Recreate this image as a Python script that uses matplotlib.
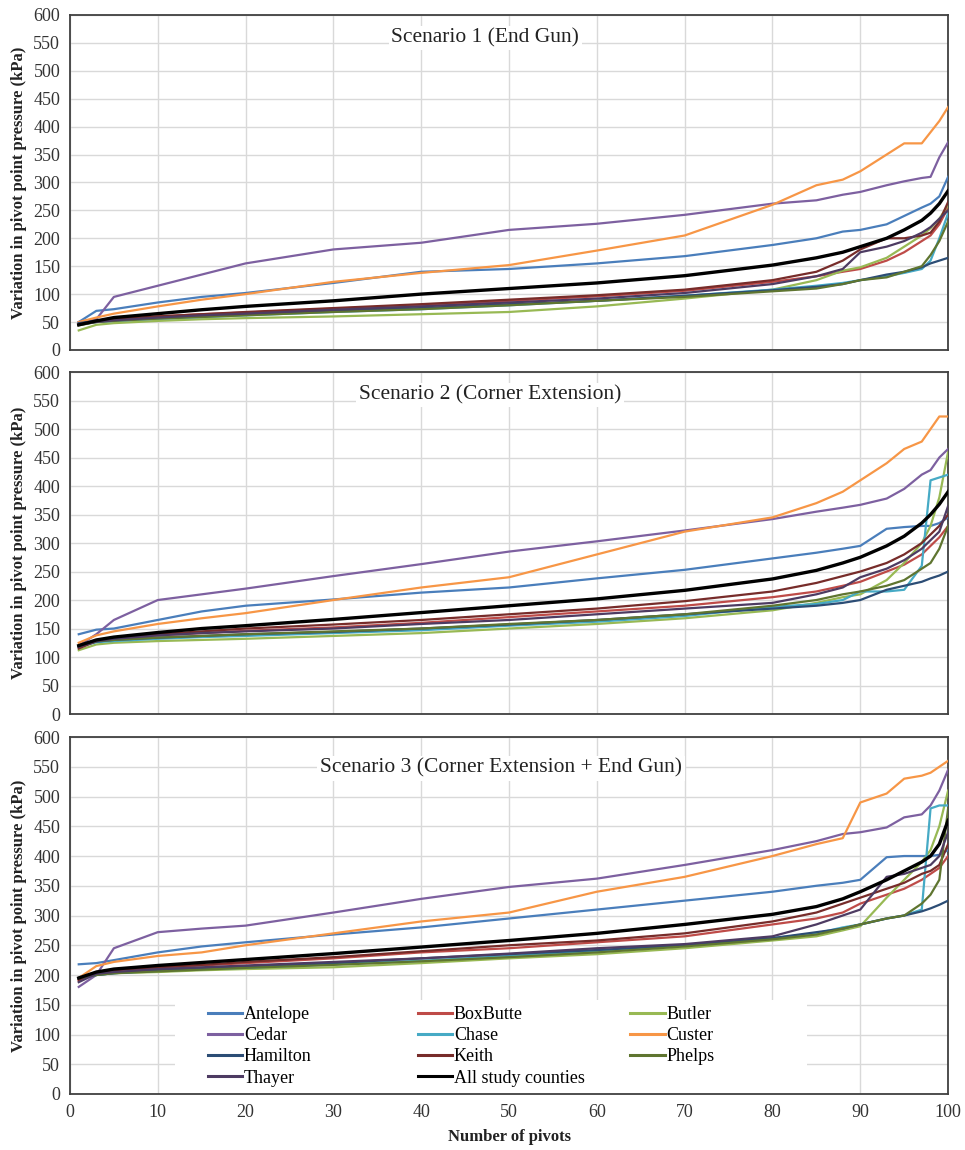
import numpy as np
import matplotlib.pyplot as plt
from matplotlib.legend import Legend
from matplotlib.patches import Rectangle

plt.rcParams['font.family'] = ['Liberation Serif', 'DejaVu Serif']

# pivot index (sorted), shared by all series
x = [1, 3, 5, 10, 15, 20, 30, 40, 50, 60, 70, 80, 85, 88, 90, 93, 95, 97, 98, 99, 100]

counties = ['Antelope', 'BoxButte', 'Butler', 'Cedar', 'Chase', 'Custer',
            'Hamilton', 'Keith', 'Phelps', 'Thayer', 'All study counties']
colors = ['#4A7EBB', '#BE4B48', '#98B954', '#7D60A0', '#46AAC5', '#F79646',
          '#2C4D75', '#772C2A', '#5F7530', '#4D3B62', '#000000']

# Scenario 1 (End Gun)
s1_antelope = [50, 70, 73, 85, 95, 102, 120, 140, 145, 155, 168, 188, 200, 212, 215, 225, 240, 255, 262, 275, 310]
s1_boxbutte = [46, 52, 55, 60, 64, 67, 74, 80, 88, 96, 106, 122, 132, 140, 145, 160, 175, 195, 205, 225, 255]
s1_butler = [35, 45, 48, 52, 55, 57, 60, 64, 68, 78, 92, 108, 125, 142, 148, 165, 185, 205, 218, 235, 260]
s1_cedar = [50, 55, 95, 115, 135, 155, 180, 192, 215, 226, 242, 262, 268, 278, 283, 295, 302, 308, 310, 345, 372]
s1_chase = [45, 50, 52, 56, 59, 62, 68, 73, 80, 88, 97, 108, 115, 120, 125, 132, 138, 145, 160, 200, 245]
s1_custer = [50, 58, 65, 78, 90, 100, 122, 138, 152, 178, 205, 260, 295, 305, 320, 350, 370, 370, 390, 410, 435]
s1_hamilton = [48, 52, 55, 58, 62, 65, 70, 75, 82, 88, 97, 107, 113, 118, 125, 135, 140, 148, 155, 160, 165]
s1_keith = [45, 52, 55, 60, 64, 68, 75, 82, 90, 98, 108, 125, 140, 160, 180, 200, 200, 205, 210, 230, 265]
s1_phelps = [44, 50, 52, 56, 59, 62, 68, 73, 80, 88, 95, 105, 110, 118, 125, 130, 140, 150, 170, 195, 230]
s1_thayer = [46, 50, 53, 58, 62, 65, 72, 78, 85, 92, 102, 118, 132, 145, 175, 185, 195, 210, 220, 235, 250]
s1_all = [45, 52, 58, 65, 72, 78, 88, 100, 110, 120, 133, 152, 165, 175, 185, 200, 215, 232, 245, 262, 285]

# Scenario 2 (Corner Extension)
s2_antelope = [140, 148, 150, 165, 180, 190, 201, 213, 222, 238, 253, 273, 283, 290, 295, 325, 328, 330, 330, 335, 345]
s2_boxbutte = [118, 128, 132, 138, 142, 146, 152, 160, 170, 180, 190, 205, 215, 225, 232, 250, 262, 280, 295, 310, 330]
s2_butler = [112, 122, 125, 128, 130, 132, 137, 142, 150, 158, 168, 182, 195, 205, 210, 235, 265, 300, 330, 380, 460]
s2_cedar = [120, 140, 165, 200, 210, 220, 242, 263, 285, 303, 322, 342, 355, 362, 367, 378, 395, 420, 428, 450, 465]
s2_chase = [118, 126, 128, 132, 135, 137, 142, 147, 155, 162, 172, 188, 193, 200, 215, 215, 218, 260, 410, 415, 420]
s2_custer = [125, 138, 145, 158, 168, 177, 200, 222, 240, 280, 320, 345, 370, 390, 410, 440, 465, 478, 500, 522, 522]
s2_hamilton = [118, 127, 130, 134, 137, 140, 144, 150, 157, 165, 175, 185, 190, 195, 200, 218, 225, 232, 238, 243, 250]
s2_keith = [115, 128, 133, 140, 145, 150, 157, 165, 175, 185, 198, 215, 230, 242, 250, 265, 280, 300, 315, 330, 350]
s2_phelps = [120, 128, 130, 134, 137, 140, 145, 150, 158, 165, 175, 190, 200, 210, 215, 225, 235, 255, 265, 290, 330]
s2_thayer = [118, 128, 132, 138, 142, 145, 150, 158, 165, 175, 185, 195, 210, 222, 240, 255, 270, 290, 305, 320, 365]
s2_all = [120, 130, 135, 143, 150, 155, 166, 178, 190, 202, 217, 237, 252, 265, 275, 295, 312, 335, 350, 368, 390]

# Scenario 3 (Corner Extension + End Gun)
s3_antelope = [218, 220, 225, 238, 248, 255, 268, 280, 295, 310, 325, 340, 350, 355, 360, 398, 400, 400, 400, 402, 410]
s3_boxbutte = [190, 205, 208, 212, 216, 220, 228, 238, 245, 255, 265, 285, 295, 305, 320, 335, 345, 360, 370, 380, 400]
s3_butler = [195, 200, 203, 205, 208, 210, 213, 220, 228, 235, 245, 258, 265, 275, 282, 330, 360, 390, 410, 450, 510]
s3_cedar = [180, 200, 245, 272, 278, 283, 305, 328, 348, 362, 385, 410, 425, 437, 440, 448, 465, 470, 485, 510, 545]
s3_chase = [195, 200, 203, 207, 210, 212, 218, 224, 232, 240, 250, 262, 270, 280, 285, 295, 300, 310, 480, 485, 485]
s3_custer = [195, 215, 222, 232, 238, 250, 270, 290, 305, 340, 365, 400, 420, 430, 490, 505, 530, 535, 540, 550, 560]
s3_hamilton = [195, 200, 203, 208, 211, 214, 220, 228, 235, 242, 250, 262, 272, 278, 285, 295, 300, 307, 312, 318, 325]
s3_keith = [192, 205, 208, 213, 217, 222, 230, 240, 250, 258, 270, 290, 305, 320, 330, 345, 355, 370, 375, 385, 420]
s3_phelps = [195, 200, 203, 206, 209, 212, 217, 223, 230, 238, 248, 260, 268, 278, 285, 295, 300, 320, 335, 360, 480]
s3_thayer = [188, 202, 205, 210, 213, 216, 222, 228, 236, 245, 252, 265, 285, 300, 310, 365, 370, 380, 385, 400, 440]
s3_all = [195, 205, 210, 216, 221, 226, 236, 247, 258, 270, 285, 302, 315, 328, 340, 360, 375, 390, 400, 420, 460]

scenarios = [
    ('Scenario 1 (End Gun)', [s1_antelope, s1_boxbutte, s1_butler, s1_cedar, s1_chase, s1_custer,
                              s1_hamilton, s1_keith, s1_phelps, s1_thayer, s1_all]),
    ('Scenario 2 (Corner Extension)', [s2_antelope, s2_boxbutte, s2_butler, s2_cedar, s2_chase, s2_custer,
                                       s2_hamilton, s2_keith, s2_phelps, s2_thayer, s2_all]),
    ('Scenario 3 (Corner Extension + End Gun)', [s3_antelope, s3_boxbutte, s3_butler, s3_cedar, s3_chase, s3_custer,
                                                 s3_hamilton, s3_keith, s3_phelps, s3_thayer, s3_all]),
]

fig = plt.figure(figsize=(9.65, 11.5), dpi=100)
# axes boxes in figure fractions: left, bottom, width, height
boxes = [(0.0725, 0.6957, 0.910, 0.2913),
         (0.0725, 0.3791, 0.910, 0.2974),
         (0.0725, 0.0487, 0.910, 0.3104)]
title_pos = [(0.473, 0.931), (0.478, 0.933), (0.491, 0.913)]

axes = []
for i, (title, series) in enumerate(scenarios):
    ax = fig.add_axes(boxes[i])
    for name, ys, c in zip(counties, series, colors):
        lw = 2.4 if name == 'All study counties' else 1.6
        ax.plot(x, ys, color=c, lw=lw, label=name, zorder=3)
    ax.set_xlim(0, 100)
    ax.set_ylim(0, 600)
    ax.set_xticks(np.arange(0, 101, 10))
    ax.set_yticks(np.arange(0, 601, 50))
    ax.grid(True, color='#d9d9d9', lw=1.0, zorder=0)
    ax.set_axisbelow(True)
    ax.tick_params(length=0, labelsize=13, colors='#333333', pad=7)
    for sp in ax.spines.values():
        sp.set_color('#404040')
        sp.set_linewidth(1.3)
    ax.set_ylabel('Variation in pivot point pressure (kPa)', fontsize=12,
                  fontweight='bold', color='#222222')
    ax.yaxis.set_label_coords(-0.049, 0.5)
    if i < 2:
        ax.tick_params(labelbottom=False)
    tx, ty = title_pos[i]
    ax.text(tx, ty, title, transform=ax.transAxes, ha='center', va='center',
            fontsize=15.5, color='#222222', zorder=5,
            bbox=dict(facecolor='white', edgecolor='none', pad=2))
    axes.append(ax)

ax3 = axes[2]
ax3.set_xlabel('Number of pivots', fontsize=12, fontweight='bold', color='#222222', labelpad=6)

# white area behind the legend, hides the grid like in the original
ax3.add_patch(Rectangle((0.12, 0.0), 0.719, 0.263, transform=ax3.transAxes,
                        facecolor='white', edgecolor='none', zorder=2.5))

# legend is laid out row-wise with equal column widths -> one legend per column
handles, labels = ax3.get_legend_handles_labels()
columns = [[0, 3, 6, 9], [1, 4, 7, 10], [2, 5, 8]]
col_x = [0.157, 0.396, 0.638]
for cx, idx in zip(col_x, columns):
    leg = Legend(ax3, [handles[k] for k in idx], [labels[k] for k in idx],
                 loc='upper left', bbox_to_anchor=(cx, 0.246), frameon=False,
                 fontsize=13, handlelength=1.9, handletextpad=0.1,
                 labelspacing=0.23, borderpad=0, borderaxespad=0)
    leg.set_zorder(6)
    for h in leg.legend_handles:
        h.set_linewidth(2.2)
    ax3.add_artist(leg)

fig.savefig('out.png', dpi=100)
